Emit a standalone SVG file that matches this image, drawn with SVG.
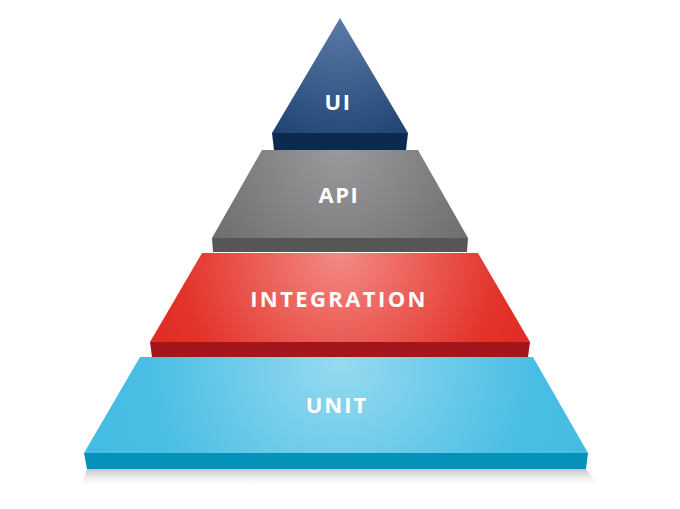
<svg xmlns="http://www.w3.org/2000/svg" width="680" height="509" viewBox="0 0 680 509">
<style>
.lbl{font-family:"Open Sans","Liberation Sans",sans-serif;font-weight:700;font-size:22px;fill:#fff;text-anchor:middle}
</style>
<defs>
<radialGradient id="gUI" cx="340" cy="20" r="140" gradientUnits="userSpaceOnUse">
<stop offset="0" stop-color="#5a7ba6"/><stop offset="1" stop-color="#1c3f70"/>
</radialGradient>
<radialGradient id="gAPI" cx="340" cy="150" r="160" gradientUnits="userSpaceOnUse">
<stop offset="0" stop-color="#9a9a9c"/><stop offset="1" stop-color="#6c6c6e"/>
</radialGradient>
<radialGradient id="gINT" cx="340" cy="255" r="200" gradientUnits="userSpaceOnUse">
<stop offset="0" stop-color="#f38a84"/><stop offset="0.8" stop-color="#e3342b"/><stop offset="1" stop-color="#e02d25"/>
</radialGradient>
<radialGradient id="gUNIT" cx="340" cy="360" r="260" gradientUnits="userSpaceOnUse">
<stop offset="0" stop-color="#97daf0"/><stop offset="0.75" stop-color="#49bee4"/><stop offset="1" stop-color="#45bce3"/>
</radialGradient>
<linearGradient id="gShadow" x1="0" y1="0" x2="0" y2="1">
<stop offset="0" stop-color="#c4c4c4"/><stop offset="1" stop-color="#ffffff" stop-opacity="0"/>
</linearGradient>
</defs>
<rect width="680" height="509" fill="#fff"/>
<polygon points="87,469 586,469 600,488 80,488" fill="url(#gShadow)"/>
<g id="unit">
<polygon points="84,453 588,453 586,469 87,469" fill="#0492b9"/>
<polygon points="140,357 533,357 588,453 84,453" fill="url(#gUNIT)"/>
<text class="lbl" x="337" y="413" letter-spacing="2">UNIT</text>
</g>
<g id="integration">
<polygon points="150,342 530,342 528,357 152,357" fill="#a3161c"/>
<polygon points="202,253 478,253 530,342 150,342" fill="url(#gINT)"/>
<text class="lbl" x="339" y="307" letter-spacing="2.4">INTEGRATION</text>
</g>
<g id="api">
<polygon points="212,238 468,238 467,252 213,252" fill="#565656"/>
<polygon points="262,150 418,150 468,238 212,238" fill="url(#gAPI)"/>
<text class="lbl" x="339" y="203" letter-spacing="1.5">API</text>
</g>
<g id="ui">
<polygon points="272,133 408,133 406,150 274,150" fill="#0c2a4e"/>
<polygon points="340,18 408,133 272,133" fill="url(#gUI)"/>
<text class="lbl" x="338" y="110" letter-spacing="1.5">UI</text>
</g>
</svg>
